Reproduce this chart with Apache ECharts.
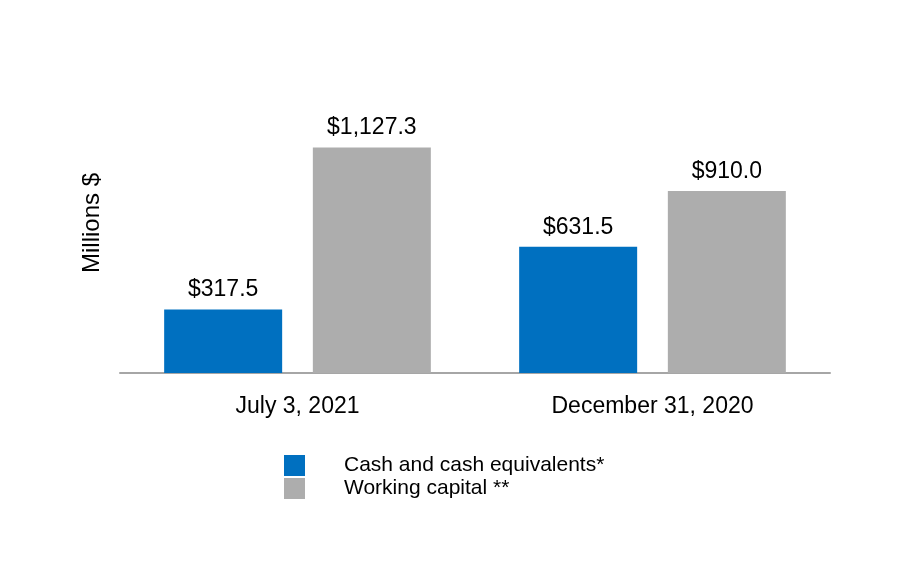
<!DOCTYPE html>
<html>
<head>
<meta charset="utf-8">
<script src="https://cdn.jsdelivr.net/npm/echarts@6/dist/echarts.min.js"></script>
<style>html,body{margin:0;padding:0;background:#fff;}#c{width:900px;height:580px;}</style>
</head>
<body>
<div id="c"></div>
<script>
var categories = ['July 3, 2021', 'December 31, 2020'];
var cashValues = [317.5, 631.5];
var workingCapitalValues = [1127.3, 910.0];
var seriesNames = ['Cash and cash equivalents*', 'Working capital **'];

function fmt(v) {
  return '$' + Number(v).toLocaleString('en-US', {minimumFractionDigits: 1, maximumFractionDigits: 1});
}
var FONT = 'Liberation Sans, Arial, sans-serif';
var chart = echarts.init(document.getElementById('c'), null, {renderer: 'canvas'});
var labelCfg = {show: true, position: 'top', distance: 8, color: '#000', fontSize: 23, fontFamily: FONT,
  formatter: function (p) { return fmt(p.value); }};
chart.setOption({
  animation: false,
  backgroundColor: '#fff',
  grid: {left: 120, right: 70, top: 73, bottom: 207},
  legend: {
    orient: 'vertical', left: 279, top: 450, itemWidth: 21, itemHeight: 21, itemGap: 2,
    icon: 'rect',
    textStyle: {fontSize: 21, color: '#000', fontFamily: FONT, padding: [3, 0, 0, 34]},
    data: seriesNames
  },
  xAxis: {
    type: 'category', data: categories,
    axisLine: {lineStyle: {color: '#A6A6A6', width: 2}},
    axisTick: {show: false},
    axisLabel: {color: '#000', fontSize: 23, fontFamily: FONT, margin: 22}
  },
  yAxis: {
    type: 'value', min: 0, max: 1500,
    name: 'Millions $', nameLocation: 'middle', nameGap: 16,
    nameTextStyle: {fontSize: 24, color: '#000', fontFamily: FONT},
    axisLine: {show: false}, axisTick: {show: false}, axisLabel: {show: false},
    splitLine: {show: false}
  },
  series: [
    {name: seriesNames[0], type: 'bar', data: cashValues, barWidth: 118, barGap: '26%',
     itemStyle: {color: '#0070C0'}, label: labelCfg},
    {name: seriesNames[1], type: 'bar', data: workingCapitalValues, barWidth: 118, barGap: '26%',
     itemStyle: {color: '#ADADAD'}, label: labelCfg}
  ]
});
</script>
</body>
</html>
